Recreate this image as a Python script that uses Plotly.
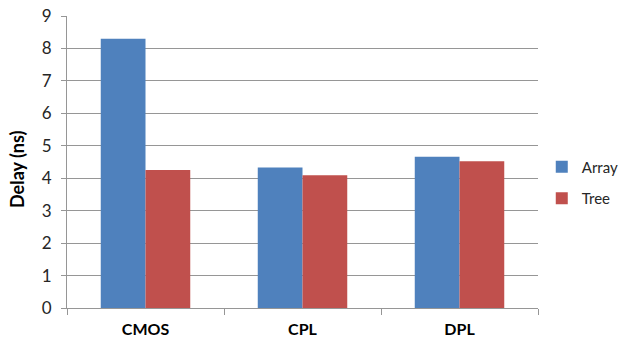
import plotly.graph_objects as go

# Delay per logic style, for array and tree multiplier layouts
categories = ["CMOS", "CPL", "DPL"]
array_delay = [8.3, 4.33, 4.66]
tree_delay = [4.25, 4.09, 4.52]
y_ticks = [0, 1, 2, 3, 4, 5, 6, 7, 8, 9]

FONT = "Lato, 'Open Sans', sans-serif"
GRID = "#969696"

fig = go.Figure()
fig.add_trace(go.Bar(name="Array", x=categories, y=array_delay, legendgroup="a",
                     marker=dict(color="#4F81BD", line=dict(width=0))))
fig.add_trace(go.Bar(name="Tree", x=categories, y=tree_delay, legendgroup="t",
                     marker=dict(color="#C0504D", line=dict(width=0))))

fig.update_layout(
    width=622, height=350,
    margin=dict(l=67, r=84, t=16, b=42, autoexpand=False),
    paper_bgcolor="white", plot_bgcolor="white",
    barmode="group", bargap=0.43, bargroupgap=0,
    font=dict(family=FONT, color="#262626"),
    showlegend=True,
    legend=dict(x=1.008, y=0.43, xanchor="left", yanchor="middle",
                font=dict(size=15, family=FONT), itemwidth=30,
                tracegroupgap=9, bgcolor="rgba(0,0,0,0)"),
    xaxis=dict(
        type="category", showgrid=False, showline=True, linecolor=GRID, linewidth=1,
        ticks="outside", tickson="boundaries", ticklen=6, tickcolor=GRID,
        tickfont=dict(size=16, family=FONT, color="#000000", weight="bold"),
        ticklabelstandoff=7,
    ),
    yaxis=dict(
        range=[0, 9], tickvals=y_ticks, showgrid=True, gridcolor=GRID, gridwidth=1,
        showline=True, linecolor=GRID, linewidth=1, zeroline=False,
        ticks="outside", ticklen=5, tickcolor=GRID,
        tickfont=dict(size=17, family=FONT, color="#262626"),
        ticklabelstandoff=6,
    ),
    annotations=[dict(
        text="Delay (ns)", textangle=-90, showarrow=False,
        xref="paper", yref="paper", x=-0.106, y=0.473,
        xanchor="center", yanchor="middle",
        font=dict(size=18, family=FONT, color="#000000", weight="bold"),
    )],
)

fig.write_html("out.html")
